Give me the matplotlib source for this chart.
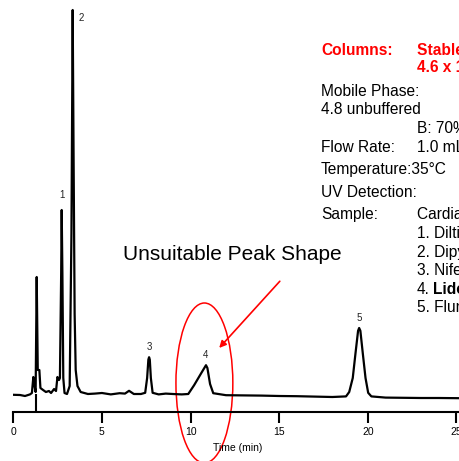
import matplotlib
matplotlib.use("Agg")
import matplotlib.pyplot as plt
from matplotlib.patches import Ellipse

plt.rcParams['font.family'] = ['Liberation Sans', 'DejaVu Sans']

# chromatogram trace (time in min, signal in arbitrary units)
time = [0.0, 0.38, 0.66, 0.94, 1.05, 1.13, 1.20, 1.26, 1.32, 1.38, 1.47, 1.53, 1.68,
        1.84, 2.01, 2.13, 2.30, 2.41, 2.49, 2.58, 2.63, 2.70, 2.73, 2.77, 2.82, 2.89,
        3.03, 3.18, 3.28, 3.35, 3.40, 3.46, 3.52, 3.62, 3.80, 4.21, 4.6, 5.0, 5.5,
        6.0, 6.3, 6.53, 6.8, 7.2, 7.44, 7.55, 7.62, 7.66, 7.70, 7.76, 7.86, 8.2,
        8.6, 9.0, 9.5, 9.87, 10.2, 10.6, 10.87, 10.95, 11.1, 11.28, 12.0, 13.0,
        14.0, 15.0, 16.0, 17.0, 18.0, 18.77, 18.95, 19.15, 19.3, 19.45, 19.51,
        19.58, 19.72, 19.87, 20.02, 20.2, 21.0, 22.0, 23.0, 24.0, 25.2]
signal = [-0.2, -0.25, -0.5, -0.1, 0.25, 4.25, 2.0, 0.5, 29.25, 6.0, 6.0, 1.5, 1.0,
          0.5, 0.75, 0.25, 1.25, 0.75, 4.25, 3.5, 4.0, 30.0, 46.0, 30.0, 4.0, 0.25,
          0.0, 2.0, 40.0, 96.0, 60.0, 20.0, 6.0, 2.0, 0.5, 0.0, 0.1, 0.25, -0.1,
          0.2, 0.1, 0.8, 0.0, 0.0, 0.3, 4.0, 8.6, 9.2, 8.6, 4.0, 0.3, -0.1,
          0.1, 0.0, -0.1, 0.0, 2.2, 5.2, 7.2, 6.5, 2.5, 0.2, -0.3, -0.35,
          -0.4, -0.5, -0.55, -0.65, -0.75, -0.6, 0.5, 4.0, 10.0, 15.8, 16.5,
          15.8, 10.0, 4.0, 0.3, -0.6, -0.9, -0.95, -1.0, -1.0, -1.05]

peak_ids = ["1", "2", "3", "4", "5"]
peak_times = [2.75, 3.86, 7.66, 10.87, 19.5]
peak_label_y = [49.75, 94.0, 11.75, 9.75, 19.0]

injection_time = 1.26
xticks = [0, 5, 10, 15, 20, 25]

fig = plt.figure(figsize=(4.6, 4.61), dpi=100)
ax = fig.add_axes([13.3 / 460, 49 / 461, 446.7 / 460, 412 / 461])

ax.plot(time, signal, color="black", lw=1.6)
ax.vlines(injection_time, -4.5, 0, color="black", lw=1.5)

for pid, pt, py in zip(peak_ids, peak_times, peak_label_y):
    ax.text(pt, py, pid, ha="center", va="center", fontsize=7, color="#222222")

ax.set_xlim(0, 25.2)
ax.set_ylim(-4.5, 98.5)
for s in ["top", "right", "left"]:
    ax.spines[s].set_visible(False)
ax.spines["bottom"].set_linewidth(1.5)
ax.set_yticks([])
ax.set_xticks(xticks)
ax.set_xticklabels([str(t) for t in xticks])
ax.tick_params(axis="x", direction="out", length=8, width=1.5, labelsize=7.5, pad=3)
ax.set_xlabel("Time (min)", fontsize=7.5, labelpad=1)
ax.xaxis.set_label_coords((238 - 13.3) / 446.7, -0.075)

# red annotation
ax.text(12.33, 35.0, "Unsuitable Peak Shape", fontsize=15, ha="center", va="center")
ax.annotate("", xy=(11.51, 11.0), xytext=(15.14, 28.7),
            arrowprops=dict(arrowstyle="-|>", color="red", lw=1.2,
                            mutation_scale=10))
ax.add_patch(Ellipse((10.78, 2.75), 3.21, 40, fill=False, edgecolor="red",
                     lw=1.1, clip_on=False))

# conditions text block
def ftext(px, py, s, **kw):
    fig.text(px / 460, 1 - py / 461, s, va="center", ha="left", fontsize=11.2, **kw)

ftext(321, 50.7, "Columns:", color="red", fontweight="bold")
ftext(417, 50.7, "StableBond SB-C18", color="red", fontweight="bold")
ftext(417, 67.3, "4.6 x 150 mm, 5 \u00b5m", color="red", fontweight="bold")
ftext(321, 91.7, "Mobile Phase:")
ftext(321, 110, "4.8 unbuffered")
ftext(417, 128.3, "B: 70% MeOH")
ftext(321, 147.3, "Flow Rate:")
ftext(417, 147.3, "1.0 mL/min")
ftext(321, 169.3, "Temperature:35\u00b0C")
ftext(321, 192.3, "UV Detection:")
ftext(321, 214.3, "Sample:")
ftext(417, 214.3, "Cardiac Drugs")
ftext(417, 233.3, "1. Diltiazem")
ftext(417, 252.0, "2. Dipyridamole")
ftext(417, 270.5, "3. Nifedipine")
ftext(417, 289.0, "4.")
ftext(433, 289.0, "Lidoflazine", fontweight="bold")
ftext(417, 307.5, "5. Flunarizine")

fig.savefig("out.png", dpi=100)
